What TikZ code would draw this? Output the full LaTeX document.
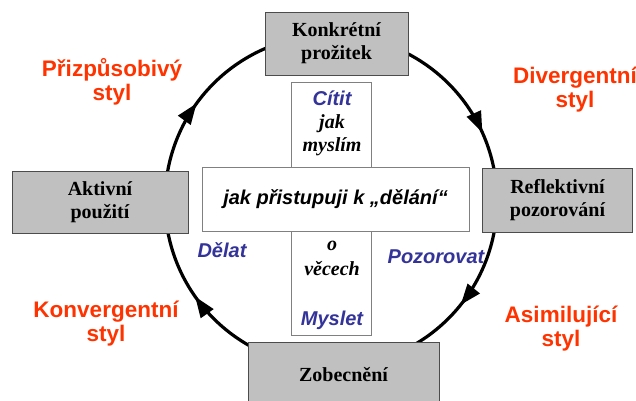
\documentclass[tikz,border=0pt]{standalone}
\usepackage{fontspec}
\setmainfont{Liberation Serif}
\setsansfont{Liberation Sans}
\usepackage{tikz}
\usetikzlibrary{arrows.meta,decorations.markings}
\definecolor{stylered}{HTML}{FF3300}
\definecolor{actblue}{HTML}{333399}
\definecolor{phasegray}{HTML}{C0C0C0}

\begin{document}
\begin{tikzpicture}[
    x=1pt, y=1pt,
    phase/.style={draw=black!70, fill=phasegray, line width=0.8pt, inner sep=0pt, align=center, font=\fontsize{20}{23}\selectfont\bfseries},
    panel/.style={draw=black!50, fill=white, line width=0.8pt, inner sep=0pt},
    styletext/.style={text=stylered, align=center, inner sep=0pt, font=\sffamily\fontsize{22.5}{24}\selectfont\bfseries},
    act/.style={text=actblue, inner sep=0pt, anchor=base, font=\sffamily\fontsize{20}{23}\selectfont\bfseries\itshape},
    how/.style={inner sep=0pt, anchor=base, font=\fontsize{20}{23}\selectfont\bfseries\itshape},
    cycleline/.style={line width=3.2pt},
    flowtip/.style={postaction={decorate, decoration={markings, mark=at position #1 with {\arrow{Triangle[length=21pt,width=15pt]}}}}}
  ]
    \path[use as bounding box, clip] (0,0) rectangle (636,400);

    % points of the learning cycle
    \coordinate (pn) at (331,365);
    \coordinate (pe) at (497,199);
    \coordinate (ps) at (331,33);
    \coordinate (pw) at (165,199);

    \draw[cycleline, flowtip=0.73] (pn) to[out=0, in=90] (pe);
    \draw[cycleline, flowtip=0.43] (pe) to[out=-90, in=0] (ps);
    \draw[cycleline, flowtip=0.61] (ps) to[out=180, in=-90] (pw);
    \draw[cycleline, flowtip=0.40] (pw) to[out=90, in=180] (pn);

    % the cross in the middle
    \node[panel, minimum width=80pt, minimum height=253pt] (vert) at (331,191.5) {};
    \node[panel, minimum width=267pt, minimum height=64pt, font=\sffamily\fontsize{20}{23}\selectfont\bfseries\itshape] (approach) at (335.5,201) {jak přistupuji k „dělání“};

    % four phases
    \node[phase, minimum width=143pt, minimum height=63pt] (konkret) at (336.5,356.5) {Konkrétní\\prožitek};
    \node[phase, minimum width=150pt, minimum height=64pt] (reflekt) at (557.5,200) {Reflektivní\\pozorování};
    \node[phase, minimum width=191pt, minimum height=66pt] (zobec) at (343.5,25) {Zobecnění};
    \node[phase, minimum width=176pt, minimum height=62pt] (aktiv) at (100,198) {Aktivní\\použití};

    % texts in the vertical bar
    \node[act] (citit) at (332,295) {Cítit};
    \node[how] (jak) at (332,272) {jak};
    \node[how] (myslim) at (332,249) {myslím};
    \node[how] (o) at (332,150) {o};
    \node[how] (vecech) at (332,125) {věcech};
    \node[act] (myslet) at (332,75) {Myslet};
    \node[act] (delat) at (222,143) {Dělat};
    \node[act] (pozor) at (436,137) {Pozorovat};

    % learning styles
    \node[styletext] (prizp) at (112,318) {Přizpůsobivý\\styl};
    \node[styletext] (diverg) at (575,310) {Divergentní\\styl};
    \node[styletext] (konverg) at (106,76) {Konvergentní\\styl};
    \node[styletext] (asimil) at (561,71) {Asimilující\\styl};
  \end{tikzpicture}
\end{document}
